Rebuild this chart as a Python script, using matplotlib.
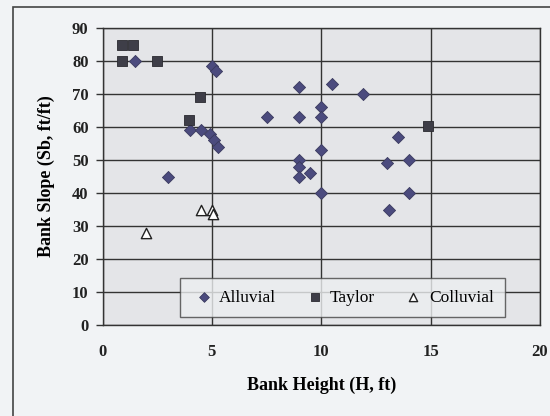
import matplotlib
matplotlib.use("Agg")
import matplotlib.pyplot as plt
from matplotlib.patches import Rectangle

# values
alluvial_h = [1.5, 5.0, 5.2, 9.0, 10.5, 11.9, 7.5, 9.0, 10.0, 10.0, 4.0, 4.5, 4.9, 5.1, 5.3,
              13.5, 10.0, 9.0, 9.0, 9.0, 9.5, 10.0, 13.0, 14.0, 14.0, 13.1, 3.0]
alluvial_s = [80, 78.5, 77, 72, 73, 70, 63, 63, 66, 63, 59, 59, 58, 56, 54,
              57, 53, 50, 48, 45, 46, 40, 49, 50, 40, 35, 45]
taylor_h = [0.9, 1.4, 0.9, 2.5, 4.45, 3.95, 14.9]
taylor_s = [85, 85, 80, 80, 69, 62, 60.3]
colluvial_h = [2.0, 4.5, 5.0, 5.05]
colluvial_s = [28, 35, 35, 33.5]

plt.rcParams['font.family'] = ['Liberation Serif', 'DejaVu Serif']

fig = plt.figure(figsize=(5.5, 4.16), dpi=100)
fig.patch.set_facecolor('#f1f3f5')
# outer chart frame, its right and bottom edges run off the picture
fig.patches.append(Rectangle((13/550, -0.05), 1.2, 1 - 7/416 + 0.05, transform=fig.transFigure,
                             fill=False, edgecolor='#444444', linewidth=1.2))

ax = fig.add_axes([102.5/550, 1 - 325/416, 437.5/550, 297/416])
ax.set_facecolor('#e4e5e8')

ax.scatter(alluvial_h, alluvial_s, marker='D', s=38, color='#4b4b7e', edgecolors='#3a3a5e',
           linewidths=0.6, label='Alluvial', zorder=3)
ax.scatter(taylor_h, taylor_s, marker='s', s=44, color='#3e3e48', edgecolors='#2a2a30',
           linewidths=0.6, label='Taylor', zorder=3)
ax.scatter(colluvial_h, colluvial_s, marker='^', s=55, facecolors='white', edgecolors='#222222',
           linewidths=1.0, label='Colluvial', zorder=3)

ax.set_xlim(0, 20)
ax.set_ylim(0, 90)
ax.set_xticks([0, 5, 10, 15, 20])
ax.set_yticks(range(0, 100, 10))
ax.grid(True, color='#333333', linewidth=1.0)
ax.set_axisbelow(True)
for sp in ax.spines.values():
    sp.set_color('#333333')
    sp.set_linewidth(1.0)
ax.tick_params(axis='y', labelsize=12, length=5, width=1.0, color='#333333', pad=5)
ax.tick_params(axis='x', labelsize=12, length=0, pad=14)
for lbl in ax.get_xticklabels() + ax.get_yticklabels():
    lbl.set_fontweight('bold')
    lbl.set_color('#222222')

ax.set_xlabel('Bank Height (H, ft)', fontsize=13, fontweight='bold', labelpad=12)
ax.set_ylabel('Bank Slope (Sb, ft/ft)', fontsize=13, fontweight='bold', labelpad=12)

leg = ax.legend(loc='lower center', bbox_to_anchor=(0.549, 0.027), borderaxespad=0, ncol=3,
                fontsize=12.5, frameon=True, fancybox=False, edgecolor='#444444',
                handletextpad=0.2, handlelength=1.4, columnspacing=1.5, borderpad=0.65,
                markerscale=0.8)
leg.get_frame().set_facecolor('#eceef0')
leg.get_frame().set_linewidth(1.0)

fig.savefig('out.png', dpi=100, facecolor=fig.get_facecolor())
